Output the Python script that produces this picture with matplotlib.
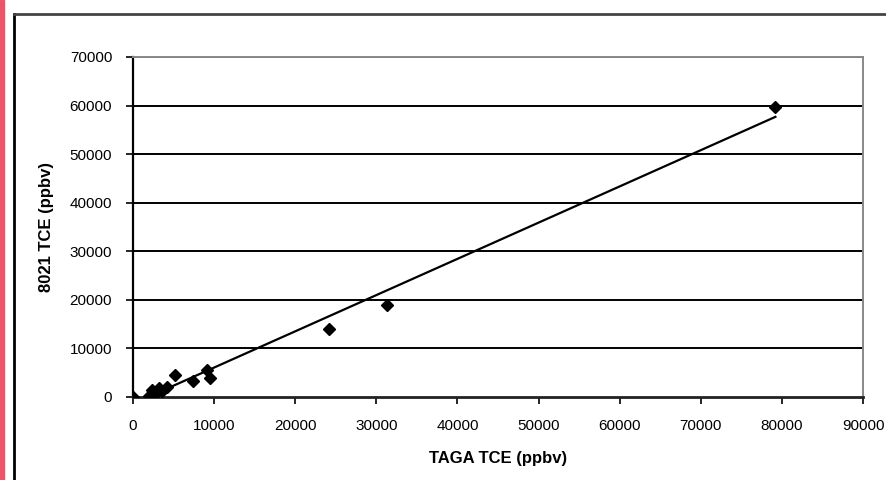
import numpy as np
import matplotlib
matplotlib.use("Agg")
from matplotlib import pyplot as plt
from matplotlib.patches import Rectangle

# TAGA vs 8021 TCE readings (ppbv)
taga_tce = [0, 2000, 2300, 2800, 3200, 3600, 4200, 5200, 7400, 9100, 9500, 24200, 31300, 79200]
tce_8021 = [0, 300, 1500, 900, 1800, 1200, 2000, 4500, 3300, 5600, 3900, 14000, 19000, 59700]

x_ticks = list(range(0, 90001, 10000))
y_ticks = list(range(0, 70001, 10000))

plt.rcParams['font.family'] = ['Liberation Sans', 'DejaVu Sans']

fig = plt.figure(figsize=(8.86, 4.8), dpi=100)
fig.patch.set_facecolor('white')

# pink strip at the left edge and the outer chart frame
fig.patches.append(Rectangle((0, 0), 3.5 / 886, 1, transform=fig.transFigure,
                             color='#ee5468', zorder=0))
fig.add_artist(plt.Line2D([13.5 / 886, 13.5 / 886], [0, 1 - 13.5 / 480],
                          transform=fig.transFigure, color='black', lw=2))
fig.add_artist(plt.Line2D([13.5 / 886, 1], [1 - 13.5 / 480, 1 - 13.5 / 480],
                          transform=fig.transFigure, color='#444444', lw=2))

ax = fig.add_axes([133 / 886, 1 - 397 / 480, 730 / 886, 340 / 480])
ax.set_facecolor('white')

for y in y_ticks[1:]:
    ax.axhline(y, color='black', lw=1.4, zorder=1)

# linear trendline over the data range
slope, intercept = np.polyfit(taga_tce, tce_8021, 1)
fit_x = np.array([min(taga_tce), max(taga_tce)])
ax.plot(fit_x, slope * fit_x + intercept, color='black', lw=1.6, zorder=2)

ax.plot(taga_tce, tce_8021, 'D', color='black', markersize=6.5, zorder=3)

ax.set_xlim(0, 90000)
ax.set_ylim(0, 70000)
ax.set_xticks(x_ticks)
ax.set_yticks(y_ticks)
ax.tick_params(axis='both', labelsize=11, length=5, width=1.2, color='black')
ax.tick_params(axis='x', pad=11)
ax.tick_params(axis='y', pad=10)

ax.spines['left'].set_color('black')
ax.spines['left'].set_linewidth(1.6)
ax.spines['bottom'].set_color('#222222')
ax.spines['bottom'].set_linewidth(2)
ax.spines['top'].set_color('#888888')
ax.spines['top'].set_linewidth(1.4)
ax.spines['right'].set_color('#888888')
ax.spines['right'].set_linewidth(1.4)

ax.set_xlabel("TAGA TCE (ppbv)", fontsize=12, fontweight='bold', labelpad=13)
ax.set_ylabel("8021 TCE (ppbv)", fontsize=12, fontweight='bold', labelpad=11)

plt.savefig("out.png", dpi=100)
plt.close(fig)
